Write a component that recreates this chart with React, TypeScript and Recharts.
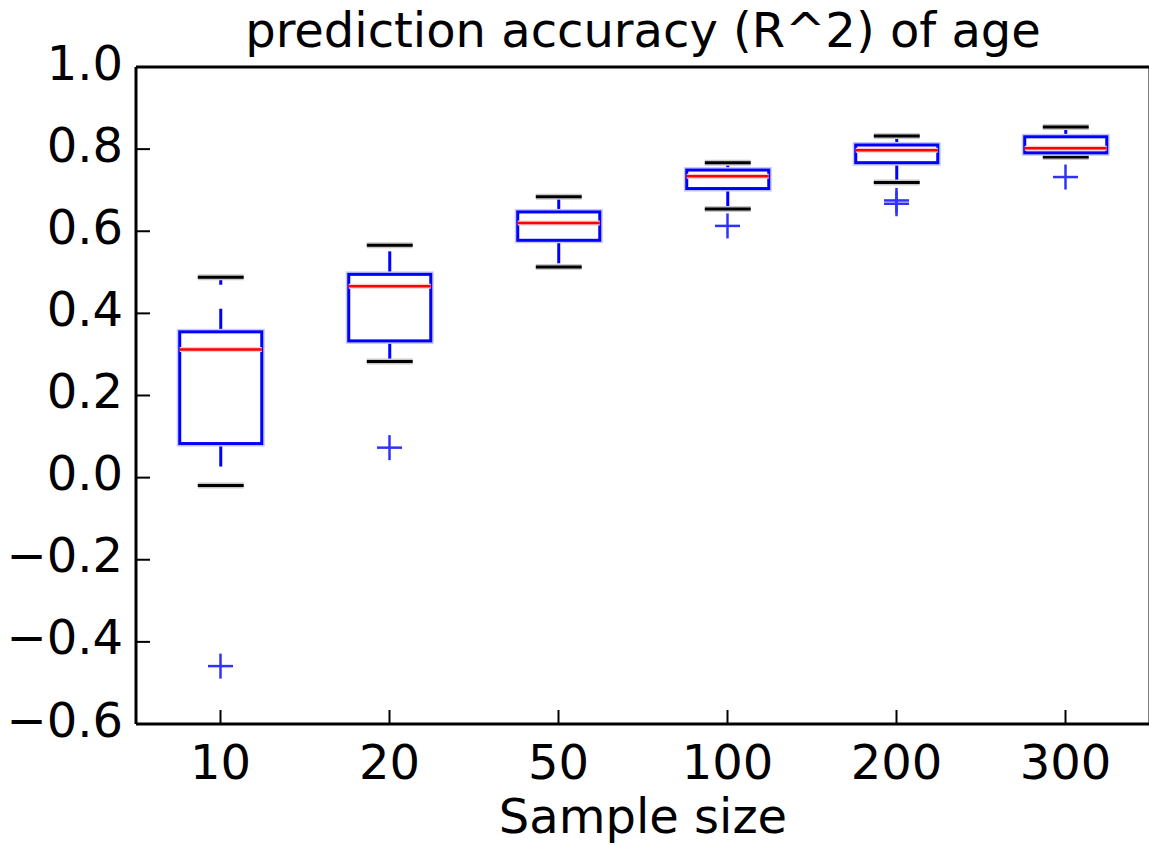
import { ComposedChart, Bar, Scatter, XAxis, YAxis } from 'recharts';

// values
const sampleSizes = ['10', '20', '50', '100', '200', '300'];
const whiskerLow = [-0.019, 0.283, 0.513, 0.654, 0.719, 0.781];
const quartile1 = [0.083, 0.333, 0.578, 0.704, 0.767, 0.791];
const medians = [0.312, 0.466, 0.62, 0.734, 0.797, 0.802];
const quartile3 = [0.355, 0.495, 0.647, 0.749, 0.81, 0.83];
const whiskerHigh = [0.488, 0.566, 0.684, 0.767, 0.832, 0.854];

const outlierSizes = ['10', '20', '100', '200', '200', '300'];
const outlierValues = [-0.459, 0.073, 0.613, 0.675, 0.667, 0.732];

const yTicks = [-0.6, -0.4, -0.2, 0, 0.2, 0.4, 0.6, 0.8, 1.0];

const FONT = 'DejaVu Sans';
const FONT_SIZE = 48;
const TICK_LEN = 14;
const X_TICK_MARGIN = 21;
const Y_TICK_MARGIN = 13;

const boxes = sampleSizes.map((size, i) => ({
  size,
  lo: whiskerLow[i],
  q1: quartile1[i],
  med: medians[i],
  q3: quartile3[i],
  hi: whiskerHigh[i],
}));

const outliers = outlierSizes.map((size, i) => ({ size, value: outlierValues[i] }));

const fmt = (v: number) => v.toFixed(1).replace('-', '\u2212');

function BoxShape(props: any) {
  const { x, y, width, height, payload } = props;
  if (!payload) return null;
  const { lo, q1, med, q3, hi } = payload;
  const top = Math.min(y, y + height);
  const h = Math.abs(height);
  // map a value onto the pixel span the bar got from the y scale
  const toY = (v: number) => top + ((hi - v) / (hi - lo)) * h;
  const cx = x + width / 2;
  const capHalf = width * 0.27;
  const yq1 = toY(q1);
  const yq3 = toY(q3);
  const ym = toY(med);
  const ylo = toY(lo);
  const yhi = toY(hi);
  return (
    <g>
      {/* whiskers, dashed like matplotlib classic */}
      <line x1={cx} x2={cx} y1={yq3} y2={yhi} stroke="#0000ff" strokeWidth={3} strokeDasharray="23 24" />
      <line x1={cx} x2={cx} y1={yq1} y2={ylo} stroke="#0000ff" strokeWidth={3} strokeDasharray="23 24" />
      {/* caps */}
      <line x1={cx - capHalf} x2={cx + capHalf} y1={yhi} y2={yhi} stroke="#c8c8c8" strokeWidth={6} />
      <line x1={cx - capHalf} x2={cx + capHalf} y1={ylo} y2={ylo} stroke="#c8c8c8" strokeWidth={6} />
      <line x1={cx - capHalf} x2={cx + capHalf} y1={yhi} y2={yhi} stroke="#000" strokeWidth={3} />
      <line x1={cx - capHalf} x2={cx + capHalf} y1={ylo} y2={ylo} stroke="#000" strokeWidth={3} />
      {/* box */}
      <rect x={x + 1.5} y={yq3} width={width - 3} height={yq1 - yq3} fill="#fff" stroke="#c8c8ff" strokeWidth={6} />
      <rect x={x + 1.5} y={yq3} width={width - 3} height={yq1 - yq3} fill="#fff" stroke="#0000ff" strokeWidth={3} />
      {/* median */}
      <line x1={x + 1.5} x2={x + width - 1.5} y1={ym} y2={ym} stroke="#ffc8c8" strokeWidth={5} />
      <line x1={x + 1.5} x2={x + width - 1.5} y1={ym} y2={ym} stroke="#ff0000" strokeWidth={2.5} />
    </g>
  );
}

function PlusShape(props: any) {
  const { cx, cy } = props;
  if (cx == null || cy == null) return null;
  return (
    <g stroke="#3030ff" strokeWidth={2.5}>
      <line x1={cx - 12.5} x2={cx + 12.5} y1={cy} y2={cy} />
      <line x1={cx} x2={cx} y1={cy - 12.5} y2={cy + 12.5} />
    </g>
  );
}

function XTick(props: any) {
  const { x, y, payload } = props;
  const axisY = y - X_TICK_MARGIN;
  return (
    <g>
      <line x1={x} x2={x} y1={axisY} y2={axisY - TICK_LEN} stroke="#000" strokeWidth={2} />
      <text x={x} y={y} dy="0.71em" textAnchor="middle" fontFamily={FONT} fontSize={FONT_SIZE} fill="#000">
        {payload.value}
      </text>
    </g>
  );
}

function YTick(props: any) {
  const { x, y, payload } = props;
  const axisX = x + Y_TICK_MARGIN;
  return (
    <g>
      <line x1={axisX} x2={axisX + TICK_LEN} y1={y} y2={y} stroke="#000" strokeWidth={2} />
      <text x={x} y={y} dy={12.5} textAnchor="end" fontFamily={FONT} fontSize={FONT_SIZE} fill="#000">
        {fmt(payload.value)}
      </text>
    </g>
  );
}

const axisLine = { stroke: '#000', strokeWidth: 3 };
const tickLine = { stroke: '#000', strokeWidth: 2 };

export default function App() {
  return (
    <div
      style={{
        position: 'absolute',
        left: 0,
        top: 0,
        width: 1149,
        height: 845,
        overflow: 'hidden',
        background: '#fff',
      }}
    >
      <ComposedChart
        width={1152}
        height={845}
        data={boxes}
        margin={{ top: 67, right: 2, bottom: 0, left: 0 }}
        barCategoryGap="25%"
      >
        <XAxis
          dataKey="size"
          type="category"
          allowDuplicatedCategory={false}
          interval={0}
          height={121}
          axisLine={axisLine}
          tickLine={false}
          tickSize={0}
          tickMargin={X_TICK_MARGIN}
          tick={<XTick />}
          label={{
            value: 'Sample size',
            position: 'insideBottom',
            offset: 12,
            fontFamily: FONT,
            fontSize: FONT_SIZE,
            fill: '#000',
          }}
        />
        <XAxis
          xAxisId="top"
          orientation="top"
          dataKey="size"
          type="category"
          allowDuplicatedCategory={false}
          interval={0}
          mirror
          tick={false}
          tickSize={TICK_LEN}
          axisLine={axisLine}
          tickLine={tickLine}
          label={{
            value: 'prediction accuracy (R^2) of age',
            position: 'top',
            offset: 20,
            fontFamily: FONT,
            fontSize: FONT_SIZE,
            fill: '#000',
          }}
        />
        <YAxis
          type="number"
          domain={[-0.6, 1.0]}
          ticks={yTicks}
          interval={0}
          width={136}
          axisLine={axisLine}
          tickLine={false}
          tickSize={0}
          tickMargin={Y_TICK_MARGIN}
          tick={<YTick />}
        />
        <YAxis
          yAxisId="right"
          orientation="right"
          type="number"
          domain={[-0.6, 1.0]}
          ticks={yTicks}
          interval={0}
          mirror
          tick={false}
          tickSize={TICK_LEN}
          axisLine={axisLine}
          tickLine={tickLine}
        />
        <Bar
          dataKey={(d: any) => [d.lo, d.hi]}
          shape={(p: any) => <BoxShape {...p} />}
          isAnimationActive={false}
        />
        <Scatter
          data={outliers}
          dataKey="value"
          shape={(p: any) => <PlusShape {...p} />}
          isAnimationActive={false}
        />
      </ComposedChart>
    </div>
  );
}
